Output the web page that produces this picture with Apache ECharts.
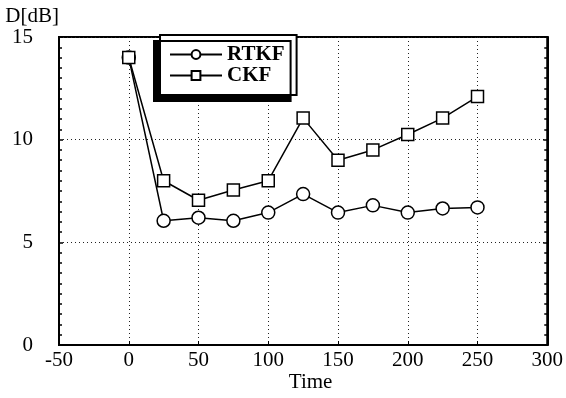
<!DOCTYPE html>
<html>
<head>
<meta charset="utf-8">
<script src="https://cdn.jsdelivr.net/npm/echarts@6/dist/echarts.min.js"></script>
<style>
html,body{margin:0;padding:0;background:#fff;}
#main{width:566px;height:398px;}
</style>
</head>
<body>
<div id="main"></div>
<script>
var times=[0,25,50,75,100,125,150,175,200,225,250];
var rtkf=[14,6.05,6.2,6.05,6.45,7.35,6.45,6.8,6.45,6.65,6.7];
var ckf=[14,8.0,7.05,7.55,8.0,11.05,9.0,9.5,10.25,11.05,12.1];
var xTicks=[-50,300,50];
var yTicks=[0,15,5];

var font="'Liberation Serif','DejaVu Serif',serif";
function pairs(vals){
    return times.map(function(t,i){return [t,vals[i]];});
}
var grid_line={show:true,lineStyle:{color:"#222",width:1,type:[1,3]}};

var myChart=echarts.init(document.getElementById("main"));
var option={
    backgroundColor:"#fff",
    animation:false,
    grid:{left:59,right:18,top:37,bottom:50,show:true,borderColor:"#000",borderWidth:2,backgroundColor:"transparent"},
    legend:{
        orient:"vertical",
        left:160,top:35,
        padding:[9,12,9,9],
        itemGap:0,
        itemWidth:52,itemHeight:11,
        backgroundColor:"#fff",
        borderColor:"#000",borderWidth:2,
        shadowColor:"#000",shadowBlur:0,shadowOffsetX:-6,shadowOffsetY:6,
        textStyle:{fontFamily:font,fontSize:21,fontWeight:"bold",color:"#000",lineHeight:20},
        data:["RTKF","CKF"]
    },
    xAxis:{
        type:"value",min:xTicks[0],max:xTicks[1],interval:xTicks[2],
        name:"Time",nameLocation:"middle",nameGap:27,nameMoveOverlap:false,
        nameTextStyle:{fontFamily:font,fontSize:21,color:"#000",padding:[0,0,0,15]},
        axisLine:{onZero:false,lineStyle:{color:"#000",width:2}},
        axisTick:{inside:true,length:4,lineStyle:{color:"#000"}},
        axisLabel:{fontFamily:font,fontSize:21,color:"#000",margin:5},
        splitLine:grid_line
    },
    yAxis:[{
        type:"value",min:yTicks[0],max:yTicks[1],interval:yTicks[2],
        name:"D[dB]",nameLocation:"end",nameGap:10,nameMoveOverlap:false,
        nameTextStyle:{fontFamily:font,fontSize:21,color:"#000",align:"right",padding:[0,0,0,0]},
        axisLine:{show:true,onZero:false,lineStyle:{color:"#000",width:2}},
        axisTick:{show:true,inside:true,length:4,lineStyle:{color:"#000",width:1.5}},
        minorTick:{show:true,splitNumber:10,length:3,lineStyle:{color:"#000",width:1.5}},
        axisLabel:{fontFamily:font,fontSize:21,color:"#000",margin:26},
        splitLine:grid_line
    },{
        type:"value",position:"right",min:yTicks[0],max:yTicks[1],interval:yTicks[2],
        axisLine:{show:true,onZero:false,lineStyle:{color:"#000",width:2}},
        axisTick:{show:true,inside:true,length:4,lineStyle:{color:"#000",width:1.5}},
        minorTick:{show:true,splitNumber:10,length:3,lineStyle:{color:"#000",width:1.5}},
        axisLabel:{show:false},
        splitLine:{show:false}
    }],
    series:[{
        name:"RTKF",type:"line",data:pairs(rtkf),
        symbol:"circle",symbolSize:13,showAllSymbol:true,
        lineStyle:{color:"#000",width:1.5},
        itemStyle:{color:"#fff",borderColor:"#000",borderWidth:1.5},
        z:3
    },{
        name:"CKF",type:"line",data:pairs(ckf),
        symbol:"rect",symbolSize:12,showAllSymbol:true,
        lineStyle:{color:"#000",width:1.5},
        itemStyle:{color:"#fff",borderColor:"#000",borderWidth:1.5},
        z:4
    }]
};
myChart.setOption(option);
</script>
</body>
</html>
